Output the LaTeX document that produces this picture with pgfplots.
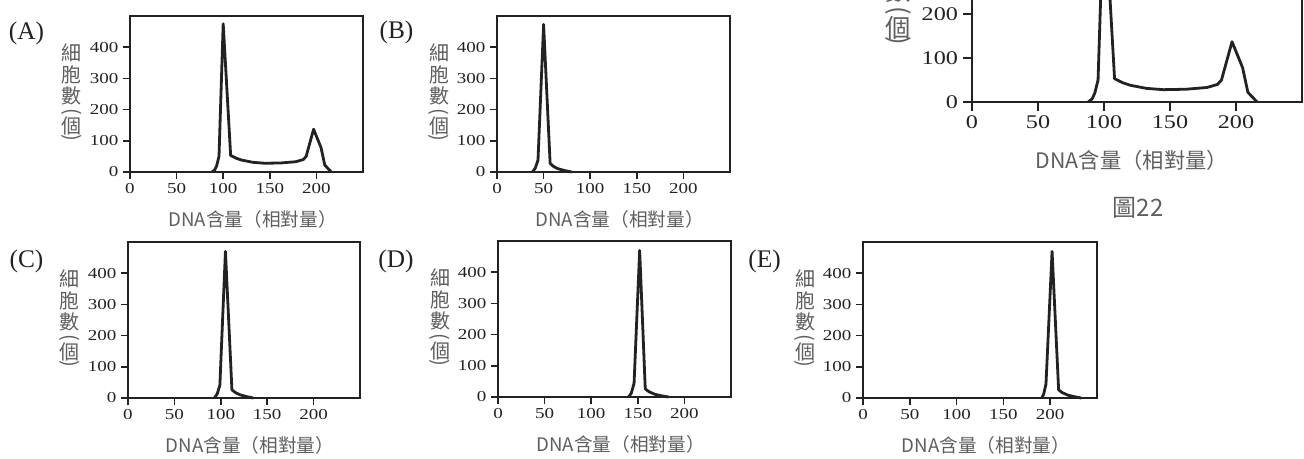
\documentclass[border=0pt]{standalone}
\usepackage{pgfplots}
\pgfplotsset{compat=1.18}
\usepackage{fontspec}
\setmainfont{Liberation Serif}
\newfontfamily\cjk{Noto Sans CJK TC}
\definecolor{ink}{HTML}{222222}
\definecolor{lab}{HTML}{5E5E5E}

\pgfplotstableread{
x y
88 0
91 7
93 20
95.5 50
100 475
108 53
114 44
120 38
132 31
145 28
162 29
178 33
186 40
189 50
197 137
205 78
209 22
216 0
}\dataA
\pgfplotstableread{
x y
38 0
41 12
44 38
50 473
57 28
60 19
65 11
72 5
80 0
}\dataB
\pgfplotstableread{
x y
93 0
96 12
99 41
105 470
112 26
116 17
121 10
127 5
135 0
}\dataC
\pgfplotstableread{
x y
140 0
143 12
146 44
152 470
158 26
162 17
168 9
175 4
183 0
}\dataD
\pgfplotstableread{
x y
191 0
193 12
195.5 45
202 470
209 26
213 17
219 9
226 4
233 0
}\dataE

\pgfplotsset{
  panelbase/.style={
    scale only axis,
    anchor=south west,
    xmin=0,xmax=250, ymin=0,ymax=500,
    xtick={0,50,100,150,200}, ytick={0,100,200,300,400},
    tick pos=left, tick align=outside,
    axis line style={line width=1.4pt, ink},
    major tick style={line width=1.2pt, ink},
    /pgf/number format/assume math mode=true,
    xticklabel={\scalebox{1.25}[1]{\pgfmathprintnumber{\tick}}},
    yticklabel={\scalebox{1.25}[1]{\pgfmathprintnumber{\tick}}},
    xlabel={\cjk DNA含量（相對量）},
    clip=false,
  },
  panel/.style={
    panelbase,
    width=174.75pt, height=117pt,
    major tick length=5.25pt,
    ticklabel style={font=\fontsize{11.4}{12}\selectfont, text=ink},
    xlabel style={font=\fontsize{14}{16}\selectfont, text=lab, at={(axis description cs:0.526,0)}, anchor=center, yshift=-35.25pt},
  },
  bigpanel/.style={
    panelbase,
    ytick={0,100,200},
    width=247.5pt, height=165pt,
    major tick length=7pt,
    ticklabel style={font=\fontsize{14.5}{16}\selectfont, text=ink},
    xlabel style={font=\fontsize{16}{18}\selectfont, text=lab, at={(axis description cs:0.485,0)}, anchor=center, yshift=-43.5pt},
  },
  curve/.style={ink, line width=2.1pt, line join=round, no marks},
}
\tikzset{
  ylabc/.style={font=\cjk\fontsize{15}{15}\selectfont, text=lab, inner sep=0pt, anchor=center},
  ylabbig/.style={font=\cjk\fontsize{19}{19}\selectfont, text=lab, inner sep=0pt, anchor=center},
  panellab/.style={font=\fontsize{19}{20}\selectfont, text=ink, inner sep=0pt, anchor=center},
}
\newcommand\smallylab{%
  \node[ylabc,xshift=-43.5pt,yshift=-27.75pt] at (axis description cs:0,1) {細};
  \node[ylabc,xshift=-43.5pt,yshift=-44.25pt] at (axis description cs:0,1) {胞};
  \node[ylabc,xshift=-43.5pt,yshift=-60pt] at (axis description cs:0,1) {數};
  \node[ylabc,xshift=-43.5pt,yshift=-72.75pt] at (axis description cs:0,1) {\rotatebox[origin=c]{-90}{(}};
  \node[ylabc,xshift=-43.5pt,yshift=-82.5pt] at (axis description cs:0,1) {個};
  \node[ylabc,xshift=-43.5pt,yshift=-92.25pt] at (axis description cs:0,1) {\rotatebox[origin=c]{-90}{)}};
}

\begin{document}
\begin{tikzpicture}
\useasboundingbox (0pt,0pt) rectangle (978pt,343.5pt);

% (A)
\begin{axis}[panel, at={(97.5pt,214.5pt)}]
\addplot[curve] table[x=x,y=y] {\dataA};
\smallylab
\end{axis}
% (B)
\begin{axis}[panel, at={(372.75pt,214.5pt)}]
\addplot[curve] table[x=x,y=y] {\dataB};
\smallylab
\end{axis}
% Fig 22 (cut at top)
\begin{axis}[bigpanel, at={(729pt,267pt)}]
\addplot[curve] table[x=x,y=y] {\dataA};
\node[ylabbig,xshift=-55.5pt,yshift=83pt] at (axis description cs:0,0) {數};
\node[ylabbig,xshift=-55.5pt,yshift=66.75pt] at (axis description cs:0,0) {\rotatebox[origin=c]{-90}{(}};
\node[ylabbig,xshift=-55.5pt,yshift=55.5pt] at (axis description cs:0,0) {個};
\node[ylabbig,xshift=-55.5pt,yshift=44.25pt] at (axis description cs:0,0) {\rotatebox[origin=c]{-90}{)}};
\end{axis}
% (C)
\begin{axis}[panel, width=174pt, at={(96pt,45pt)}]
\addplot[curve] table[x=x,y=y] {\dataC};
\smallylab
\end{axis}
% (D)
\begin{axis}[panel, at={(373.5pt,45.75pt)}]
\addplot[curve] table[x=x,y=y] {\dataD};
\smallylab
\end{axis}
% (E)
\begin{axis}[panel, width=175.5pt, at={(647.25pt,45pt)}]
\addplot[curve] table[x=x,y=y] {\dataE};
\smallylab
\end{axis}

\node[panellab] at (19.9pt,318.75pt) {(A)};
\node[panellab] at (297.4pt,319.5pt) {(B)};
\node[panellab] at (19.9pt,147.75pt) {(C)};
\node[panellab] at (297pt,147.75pt) {(D)};
\node[panellab] at (573.4pt,147.75pt) {(E)};
\node[font=\cjk\fontsize{18}{18}\selectfont, text=lab, anchor=center] at (853.5pt,187.5pt) {圖22};
\end{tikzpicture}
\end{document}
